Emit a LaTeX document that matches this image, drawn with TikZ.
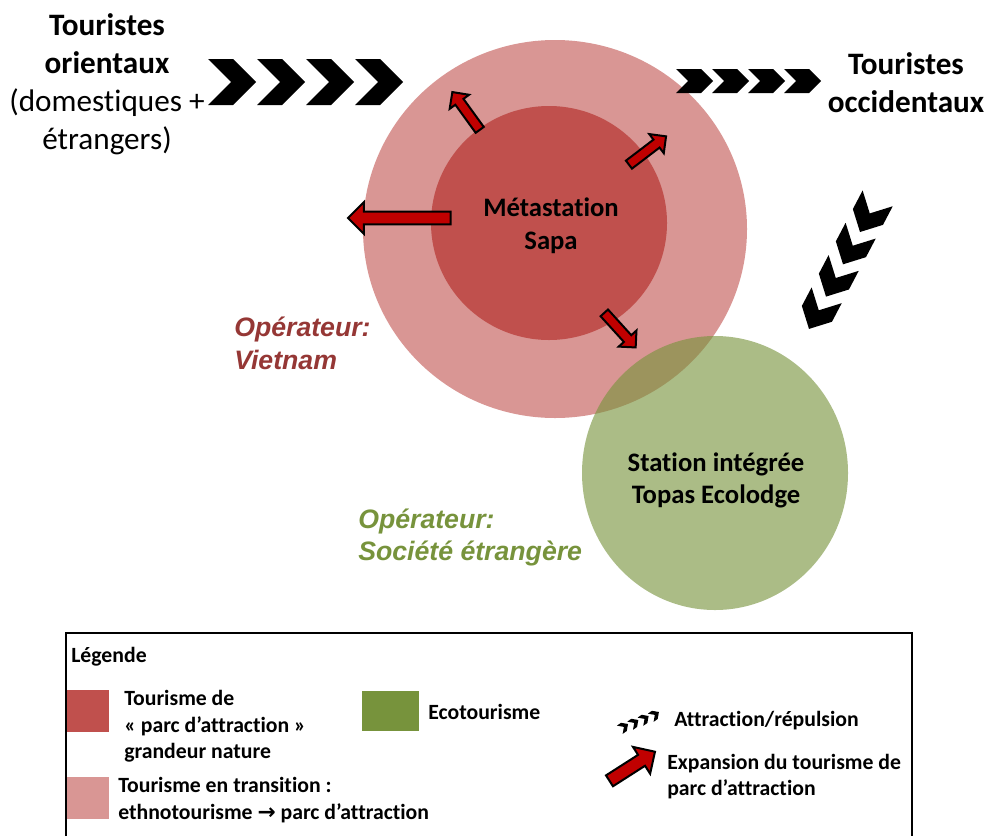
\documentclass[tikz,border=0pt]{standalone}
\usepackage{fontspec}
\setmainfont{Carlito}[Ligatures=NoCommon]
\newfontfamily\arialfont{Liberation Sans}
\newfontfamily\symbolfont{DejaVu Sans}
\usetikzlibrary{shapes.arrows}

\definecolor{outerpink}{RGB}{217,150,148}
\definecolor{innerred}{RGB}{192,80,77}
\definecolor{ecogreen}{RGB}{119,147,60}
\definecolor{arrowred}{RGB}{192,0,0}
\definecolor{vietred}{RGB}{149,55,53}

\tikzset{
  pics/chevron/.style 2 args={code={\fill[black] (-#1,#2) -- (-#2,#2) -- (0,0) -- (-#2,-#2) -- (-#1,-#2) -- ({#2-#1},0) -- cycle;}},
  redarrow/.style={single arrow, draw=black, line width=1.5pt, fill=arrowred, inner xsep=0pt, single arrow head indent=0pt},
  smallarrow/.style={redarrow, inner ysep=3pt, single arrow head extend=5.25pt, minimum height=35pt},
  bigarrow/.style={redarrow, inner ysep=4.1pt, single arrow head extend=7.1pt},
  touristtext/.style={font=\fontsize{23.4pt}{28.5pt}\selectfont, align=center, inner sep=0pt},
  zonetext/.style={font=\bfseries\fontsize{20pt}{24.5pt}\selectfont, align=center, inner sep=0pt},
  oplabel/.style={font=\arialfont\bfseries\itshape\fontsize{20pt}{24.5pt}\selectfont, align=left, anchor=west, inner sep=0pt},
  legendtext/.style={font=\bfseries\fontsize{16.3pt}{19.9pt}\selectfont, align=left, anchor=west, inner sep=0pt},
  swatch/.style={draw=none, minimum width=31.5pt, minimum height=31.5pt, inner sep=0pt},
}

\begin{document}
\begin{tikzpicture}[x=0.75pt,y=0.75pt,yscale=-1,xscale=1]
\useasboundingbox (0,0) rectangle (987,836);

%Shape: Circles
\fill[outerpink] (555,229) ellipse [x radius=192, y radius=189];
\fill[innerred] (549,223) ellipse [x radius=118, y radius=117];
\fill[ecogreen, fill opacity=0.62] (715,473) ellipse [x radius=133, y radius=137];

%Shape: Chevrons
\foreach \i in {0,...,3}
  \pic at ({256+49*\i},82) {chevron={48}{23}};
\foreach \i in {0,...,3}
  \pic at ({713+36*\i},81) {chevron={37}{12}};
\foreach \i in {0,...,3}
  \pic[rotate=-117.7] at ({860-17*\i},{232+32.3*\i}) {chevron={38}{17}};

%Shape: Expansion arrows
\node[smallarrow, rotate=125.9] (arrnw) at (467.5,113) {};
\node[smallarrow, rotate=37.3] (arrne) at (645.5,152) {};
\node[bigarrow, minimum height=77pt, rotate=180] (arrw) at (402.5,218) {};
\node[smallarrow, rotate=-47.8] (arrse) at (618.3,328.3) {};

% Text Node
\node[touristtext] (orient) at (107,84.5) {\textbf{Touristes}\\\textbf{orientaux}\\(domestiques +\\étrangers)};
% Text Node
\node[touristtext, font=\bfseries\fontsize{23.4pt}{28.5pt}\selectfont] (occid) at (906,82.5) {Touristes\\occidentaux};
% Text Node
\node[zonetext] (sapa) at (551,225.5) {Métastation\\Sapa};
% Text Node
\node[zonetext] (topas) at (716,480.5) {Station intégrée\\Topas Ecolodge};
% Text Node
\node[oplabel, text=vietred] (opviet) at (234,343.5) {Opérateur:\\Vietnam};
% Text Node
\node[oplabel, text=ecogreen] (opsoc) at (358,537.5) {Opérateur:\\Société étrangère};

%Shape: Legend
\draw[line width=1.1pt] (66,836) -- (66,633) -- (912,633) -- (912,836);
\node[legendtext] (legtitle) at (71,657) {Légende};
\node[swatch, fill=innerred] (swred) at (88,711) {};
\node[legendtext] (legred) at (124,726.5) {Tourisme de\\« parc d’attraction »\\grandeur nature};
\node[swatch, fill=ecogreen, minimum width=42.75pt, minimum height=30pt] (swgreen) at (390,711) {};
\node[legendtext] (leggreen) at (428,712) {Ecotourisme};
\node[swatch, fill=outerpink] (swpink) at (88,798) {};
\node[legendtext] (legpink) at (118,800) {Tourisme en transition :\\ethnotourisme {\symbolfont\bfseries →} parc d’attraction};
\foreach \i in {0,...,3}
  \pic[rotate=35] at ({628+10.3*\i},{724-4*\i}) {chevron={10}{5}};
\node[legendtext] (legchev) at (674,721) {Attraction/répulsion};
\node[bigarrow, minimum height=40.5pt, rotate=32.6] (legarrow) at (629.5,768) {};
\node[legendtext] (legarr) at (667,776.5) {Expansion du tourisme de\\parc d’attraction};

\end{tikzpicture}
\end{document}
